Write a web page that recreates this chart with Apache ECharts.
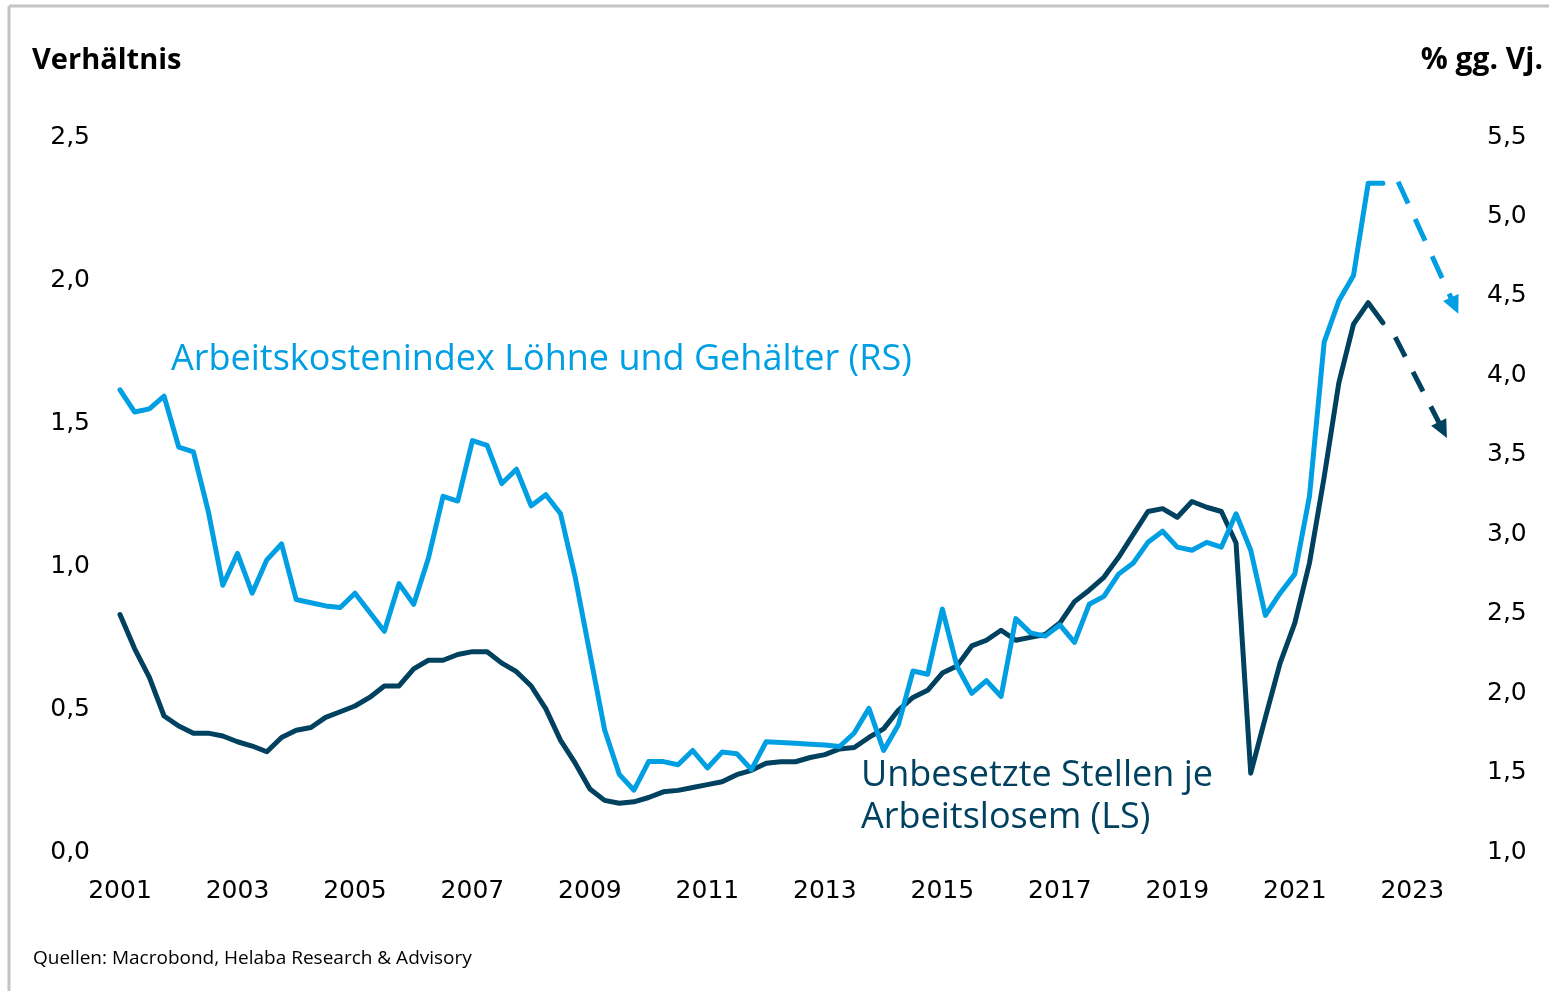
<!DOCTYPE html>
<html>
<head>
<meta charset="utf-8">
<script src="https://cdn.jsdelivr.net/npm/echarts@6/dist/echarts.min.js"></script>
<style>
html,body{margin:0;padding:0;background:#fff;}
#chart{width:1549px;height:991px;}
</style>
</head>
<body>
<div id="chart"></div>
<script>
// ---- Data (quarterly, starting 2001 Q1) ----
const startYear = 2001;
const xTickLabels = ['2001','2003','2005','2007','2009','2011','2013','2015','2017','2019','2021','2023'];
const leftTicks = ['0,0','0,5','1,0','1,5','2,0','2,5'];
const rightTicks = ['1,0','1,5','2,0','2,5','3,0','3,5','4,0','4,5','5,0','5,5'];

// Arbeitskostenindex Löhne und Gehälter, % gg. Vj. (right axis)
const wages = [
  3.89, 3.75, 3.77, 3.85,
  3.53, 3.50, 3.13, 2.66,
  2.86, 2.61, 2.82, 2.92,
  2.57, 2.55, 2.53, 2.52,
  2.61, 2.49, 2.37, 2.67,
  2.54, 2.83, 3.22, 3.19,
  3.57, 3.54, 3.30, 3.39,
  3.16, 3.23, 3.11, 2.71,
  2.23, 1.75, 1.47, 1.37,
  1.55, 1.55, 1.53, 1.62,
  1.51, 1.61, 1.60, 1.50,
  1.675, 1.67, 1.665, 1.66,
  1.655, 1.645, 1.73, 1.885,
  1.62, 1.78, 2.12, 2.10,
  2.51, 2.15, 1.98, 2.06,
  1.96, 2.45, 2.36, 2.34,
  2.41, 2.30, 2.54, 2.59,
  2.73, 2.80, 2.93, 3.00,
  2.90, 2.88, 2.93, 2.90,
  3.11, 2.88, 2.47, 2.61,
  2.73, 3.22, 4.19, 4.45,
  4.61, 5.19, 5.19
];

// Unbesetzte Stellen je Arbeitslosem, ratio (left axis)
const vacancies = [
  0.82, 0.70, 0.60, 0.465,
  0.43, 0.405, 0.405, 0.395,
  0.375, 0.36, 0.34, 0.39,
  0.415, 0.425, 0.46, 0.48,
  0.50, 0.53, 0.57, 0.57,
  0.63, 0.66, 0.66, 0.68,
  0.69, 0.69, 0.65, 0.62,
  0.57, 0.49, 0.38, 0.30,
  0.21, 0.17, 0.16, 0.165,
  0.18, 0.20, 0.205, 0.215,
  0.225, 0.235, 0.26, 0.275,
  0.30, 0.305, 0.305, 0.32,
  0.33, 0.35, 0.355, 0.39,
  0.42, 0.485, 0.53, 0.555,
  0.615, 0.64, 0.71, 0.73,
  0.765, 0.73, 0.74, 0.75,
  0.79, 0.865, 0.905, 0.95,
  1.02, 1.10, 1.18, 1.19,
  1.16, 1.215, 1.195, 1.18,
  1.07, 0.265, 0.46, 0.65,
  0.79, 1.00, 1.30, 1.63,
  1.835, 1.91, 1.84
];

// Forecast arrows: [yearsSince2001, value] start and end
const wageForecast = [[21.76, 5.20], [22.72, 4.42]];
const vacancyForecast = [[21.71, 1.79], [22.52, 1.465]];

const LIGHT = '#009fe3';
const DARK = '#00415f';
const tickFont = 'DejaVu Sans';

const toPairs = arr => arr.map((v, i) => [i / 4, v]);
const fmt = v => v.toFixed(1).replace('.', ',');

const chart = echarts.init(document.getElementById('chart'), null, {renderer: 'canvas'});

const yLabelStyle = {t: {fontFamily: tickFont, fontSize: 25, color: '#000', padding: [6, 0, 0, 0]}};

const option = {
  animation: false,
  backgroundColor: '#fff',
  grid: {left: 120, right: 78, top: 134, bottom: 142, containLabel: false},
  xAxis: {
    type: 'value', min: 0, max: 23, interval: 2,
    axisLine: {show: false}, axisTick: {show: false}, splitLine: {show: false},
    axisLabel: {
      margin: 30, fontFamily: tickFont, fontSize: 25, color: '#000',
      showMaxLabel: false,
      formatter: v => {
        const idx = Math.round(v) / 2;
        return (Math.round(v) % 2 === 0 && xTickLabels[idx]) ? xTickLabels[idx] : '';
      }
    }
  },
  yAxis: [
    {
      type: 'value', min: 0, max: 2.5, interval: 0.5, position: 'left',
      axisLine: {show: false}, axisTick: {show: false}, splitLine: {show: false},
      axisLabel: {margin: 30, fontFamily: tickFont, fontSize: 25, color: '#000', rich: yLabelStyle,
        formatter: v => '{t|' + (leftTicks[Math.round(v / 0.5)] || fmt(v)) + '}'}
    },
    {
      type: 'value', min: 1, max: 5.5, interval: 0.5, position: 'right',
      axisLine: {show: false}, axisTick: {show: false}, splitLine: {show: false},
      axisLabel: {margin: 16, fontFamily: tickFont, fontSize: 25, color: '#000', rich: yLabelStyle,
        formatter: v => '{t|' + (rightTicks[Math.round((v - 1) / 0.5)] || fmt(v)) + '}'}
    }
  ],
  series: [
    {
      name: 'Unbesetzte Stellen je Arbeitslosem (LS)',
      type: 'line', yAxisIndex: 0, data: toPairs(vacancies),
      showSymbol: false, symbol: 'none',
      lineStyle: {color: DARK, width: 5, join: 'round', cap: 'round'},
      z: 2,
      markLine: {
        silent: true, animation: false,
        symbol: ['none', 'triangle'], symbolSize: [17, 18],
        label: {show: false},
        lineStyle: {color: DARK, width: 5, type: [22, 17], cap: 'butt'},
        data: [[{coord: vacancyForecast[0]}, {coord: vacancyForecast[1]}]]
      }
    },
    {
      name: 'Arbeitskostenindex Löhne und Gehälter (RS)',
      type: 'line', yAxisIndex: 1, data: toPairs(wages),
      showSymbol: false, symbol: 'none',
      lineStyle: {color: LIGHT, width: 5, join: 'round', cap: 'round'},
      z: 3,
      markLine: {
        silent: true, animation: false,
        symbol: ['none', 'triangle'], symbolSize: [17, 18],
        label: {show: false},
        lineStyle: {color: LIGHT, width: 5, type: [24, 17], cap: 'butt'},
        data: [[{coord: wageForecast[0]}, {coord: wageForecast[1]}]]
      }
    }
  ],
  graphic: [
    {type: 'line', shape: {x1: 9, y1: 6, x2: 1549, y2: 6}, style: {stroke: '#c4c4c4', lineWidth: 3}, silent: true},
    {type: 'line', shape: {x1: 9, y1: 6, x2: 9, y2: 991}, style: {stroke: '#c4c4c4', lineWidth: 3}, silent: true},
    {type: 'text', left: 32, top: 46, style: {text: 'Verhältnis', font: 'bold 29px "Open Sans"', fill: '#000'}},
    {type: 'text', right: 6, top: 45, style: {text: '% gg. Vj.', font: 'bold 30px "Open Sans"', fill: '#000'}},
    {type: 'text', left: 171, top: 342, style: {text: 'Arbeitskostenindex Löhne und Gehälter (RS)', font: '36px "Open Sans"', fill: LIGHT}},
    {type: 'text', left: 861, top: 755, style: {text: 'Unbesetzte Stellen je\nArbeitslosem (LS)', font: '36px "Open Sans"', lineHeight: 42, fill: DARK}},
    {type: 'text', left: 33, top: 949, style: {text: 'Quellen: Macrobond, Helaba Research & Advisory', font: '19px "Open Sans"', fill: '#000'}}
  ]
};

chart.setOption(option);
</script>
</body>
</html>
